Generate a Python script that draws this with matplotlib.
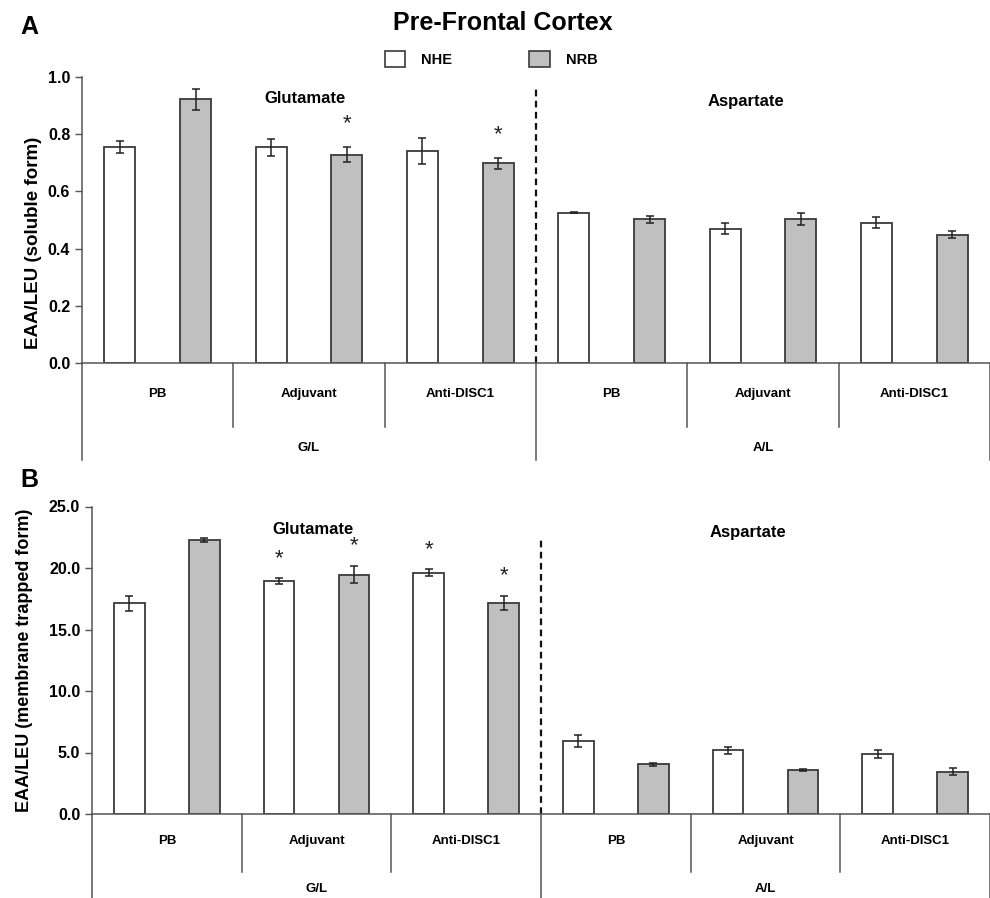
import matplotlib
matplotlib.use('Agg')
import matplotlib.pyplot as plt
import matplotlib.transforms as mtransforms
from matplotlib.patches import Patch
import numpy as np

plt.rcParams['font.family'] = ['Liberation Sans', 'DejaVu Sans']

# ---------------- data ----------------
treatments = ['PB', 'Adjuvant', 'Anti-DISC1', 'PB', 'Adjuvant', 'Anti-DISC1']
ratios = ['G/L', 'A/L']
amino_acids = ['Glutamate', 'Aspartate']
groups = ['NHE', 'NRB']

# Panel A: soluble form
sol_nhe = [0.754, 0.754, 0.740, 0.526, 0.470, 0.491]
sol_nhe_err = [0.021, 0.029, 0.045, 0.003, 0.018, 0.020]
sol_nrb = [0.922, 0.729, 0.698, 0.502, 0.504, 0.449]
sol_nrb_err = [0.036, 0.027, 0.019, 0.012, 0.022, 0.013]
sol_nhe_sig = [False, False, False, False, False, False]
sol_nrb_sig = [False, True, True, False, False, False]

# Panel B: membrane trapped form
mem_nhe = [17.14, 18.93, 19.63, 5.94, 5.17, 4.87]
mem_nhe_err = [0.62, 0.26, 0.30, 0.49, 0.28, 0.30]
mem_nrb = [22.28, 19.47, 17.19, 4.03, 3.59, 3.43]
mem_nrb_err = [0.19, 0.73, 0.57, 0.10, 0.08, 0.27]
mem_nhe_sig = [False, True, True, False, False, False]
mem_nrb_sig = [False, True, True, False, False, False]

yticksA = [0.0, 0.2, 0.4, 0.6, 0.8, 1.0]
yticksB = [0.0, 5.0, 10.0, 15.0, 20.0, 25.0]

# ---------------- style ----------------
W, H = 990, 898
fig = plt.figure(figsize=(W / 100, H / 100), dpi=100)
GRAY = '#c0c0c0'
EDGE = '#3a3a3a'
LINE = '#555555'


def panel(rect, nhe, nhe_err, nrb, nrb_err, nhe_sig, nrb_sig, yticks, ylabel,
          ylab_pos, ylab_size, inner_depth, outer_depth, lab1_y, lab2_y, aa_y,
          dash_top, star_off):
    ax = fig.add_axes(rect)
    n = len(nhe)
    x_nhe = np.arange(n) * 2
    x_nrb = np.arange(n) * 2 + 1
    bw = 0.41
    ax.bar(x_nhe, nhe, bw, color='white', edgecolor=EDGE, linewidth=1.3, zorder=2)
    ax.bar(x_nrb, nrb, bw, color=GRAY, edgecolor=EDGE, linewidth=1.3, zorder=2)
    ax.errorbar(x_nhe, nhe, yerr=nhe_err, fmt='none', ecolor='#222222',
                elinewidth=1.1, capsize=2.8, capthick=1.1, zorder=3)
    ax.errorbar(x_nrb, nrb, yerr=nrb_err, fmt='none', ecolor='#222222',
                elinewidth=1.1, capsize=2.8, capthick=1.1, zorder=3)
    for xs, vals, errs, sig in ((x_nhe, nhe, nhe_err, nhe_sig),
                                (x_nrb, nrb, nrb_err, nrb_sig)):
        for xi, v, e, s in zip(xs, vals, errs, sig):
            if s:
                ax.annotate('*', xy=(xi, v + e), xytext=(0, star_off),
                            textcoords='offset points', ha='center',
                            va='baseline', fontsize=16, color='#222222')

    ax.set_xlim(-0.5, 2 * n - 0.5)
    ax.set_ylim(yticks[0], yticks[-1])
    ax.set_yticks(yticks)
    ax.set_yticklabels([f'{t:.1f}' for t in yticks], fontsize=11.5,
                       fontweight='bold')
    ax.tick_params(axis='y', direction='out', length=5, width=1, color=LINE)
    ax.set_xticks([])
    for s in ('top', 'right'):
        ax.spines[s].set_visible(False)
    for s in ('left', 'bottom'):
        ax.spines[s].set_color(LINE)
        ax.spines[s].set_linewidth(1.1)
    ax.set_ylabel(ylabel, fontsize=ylab_size, fontweight='bold')
    ax.yaxis.set_label_coords(*ylab_pos)

    trans = mtransforms.blended_transform_factory(ax.transData, ax.transAxes)
    # dashed separator between Glutamate and Aspartate
    ax.plot([n - 0.5, n - 0.5], [0, dash_top], transform=trans,
            color='#111111', lw=1.6, ls=(0, (3, 2)), zorder=1)
    # category tiers
    for xd in (1.5, 3.5, 7.5, 9.5):
        ax.plot([xd, xd], [0, -inner_depth], transform=trans, color=LINE,
                lw=1.1, clip_on=False)
    for xd in (-0.5, n - 0.5, 2 * n - 0.5):
        ax.plot([xd, xd], [0, -outer_depth], transform=trans, color=LINE,
                lw=1.1, clip_on=False)
    for i, t in enumerate(treatments):
        ax.text(2 * i + 0.5, -lab1_y, t, transform=trans, ha='center',
                va='center', fontsize=9.5, fontweight='bold')
    for j, r in enumerate(ratios):
        ax.text(j * n + n / 2 - 0.5, -lab2_y, r, transform=trans, ha='center',
                va='center', fontsize=9.5, fontweight='bold')
    ax.text(2.45, aa_y[0], amino_acids[0], transform=trans, ha='center',
            va='center', fontsize=12, fontweight='bold')
    ax.text(8.27, aa_y[1], amino_acids[1], transform=trans, ha='center',
            va='center', fontsize=12, fontweight='bold')
    return ax


axA = panel([82 / W, 1 - 363 / H, 908 / W, 286 / H],
            sol_nhe, sol_nhe_err, sol_nrb, sol_nrb_err, sol_nhe_sig, sol_nrb_sig,
            yticksA, 'EAA/LEU (soluble form)', (-0.044, 0.42), 13.5,
            0.224, 0.339, 0.108, 0.297, (0.925, 0.913), 0.96, 13)

axB = panel([92 / W, 1 - 814 / H, 898 / W, 307.5 / H],
            mem_nhe, mem_nhe_err, mem_nrb, mem_nrb_err, mem_nhe_sig, mem_nrb_sig,
            yticksB, 'EAA/LEU (membrane trapped form)', (-0.066, 0.50), 13,
            0.188, 0.30, 0.087, 0.245, (0.926, 0.917), 0.896, 10)

fig.text(503 / W, 1 - 23 / H, 'Pre-Frontal Cortex', ha='center', va='center',
         fontsize=18, fontweight='bold')
fig.text(20 / W, 1 - 27 / H, 'A', ha='left', va='center', fontsize=18,
         fontweight='bold')
fig.text(20 / W, 1 - 480 / H, 'B', ha='left', va='center', fontsize=18,
         fontweight='bold')

handles = [Patch(facecolor='white', edgecolor=EDGE, linewidth=1.2, label=groups[0]),
           Patch(facecolor=GRAY, edgecolor=EDGE, linewidth=1.2, label=groups[1])]
leg = fig.legend(handles=handles, loc='center', bbox_to_anchor=(491 / W, 1 - 59 / H),
                 ncol=2, frameon=False, handlelength=1.4, handleheight=1.4,
                 handletextpad=1.1, columnspacing=5.3,
                 prop={'weight': 'bold', 'size': 10.5})

fig.savefig('out.png', dpi=100)
